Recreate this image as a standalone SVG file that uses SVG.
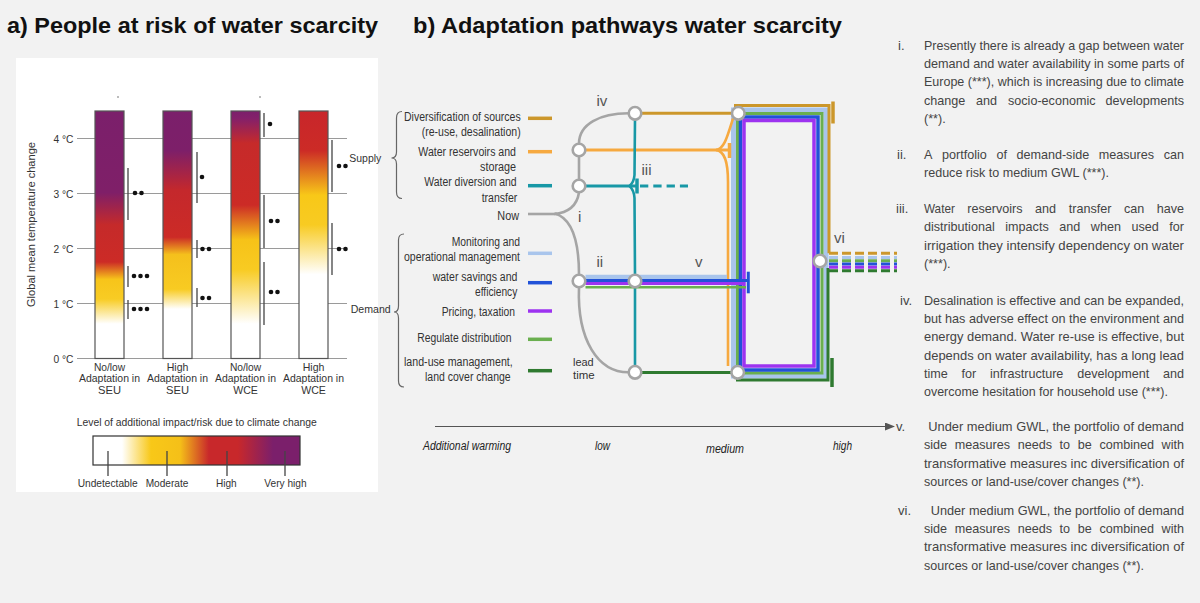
<svg xmlns="http://www.w3.org/2000/svg" width="1200" height="603" viewBox="0 0 1200 603">
<defs>
<style>
.t{font-family:"Liberation Sans",Arial,sans-serif;font-weight:bold;fill:#111;font-size:22px}
.n{font-family:"Liberation Sans Narrow","Arial Narrow","Liberation Sans",Arial,sans-serif;fill:#333}
.lab{font-size:12.5px}
.sm{font-size:11.5px}
.bl{font-size:10.5px}
.lg{font-size:11px}
.r{font-size:13px;fill:#444}
.rn{font-family:"Liberation Sans",Arial,sans-serif;font-size:15px;fill:#555}
.ax{font-style:italic;font-size:12px;fill:#222}
.grid{stroke:#9a9a9a;stroke-width:1}
.bar{stroke:#555;stroke-width:1.2}
.ci{stroke:#444;stroke-width:1.3}
.dot{fill:#111}
.tree{fill:none;stroke:#a5a5a5;stroke-width:2.6}
.node{fill:#fff;stroke:#a5a5a5;stroke-width:2.6}
.p{fill:none}
.brace{fill:none;stroke:#666;stroke-width:1.2}
.gold{stroke:#cc972b}
.orng{stroke:#f6a940}
.teal{stroke:#1898a6}
.lblu{stroke:#a9c5ec}
.blue{stroke:#2152d8}
.purp{stroke:#9d33f0}
.lgrn{stroke:#6aaf4f}
.dgrn{stroke:#2f7a30}
</style>
<linearGradient id="g1" x1="0" y1="0" x2="0" y2="1">
<stop offset="0" stop-color="#7b1f6b"/><stop offset="0.33" stop-color="#7f1f68"/><stop offset="0.46" stop-color="#c52a2a"/><stop offset="0.61" stop-color="#cc2b26"/><stop offset="0.68" stop-color="#f7c41a"/><stop offset="0.76" stop-color="#f8cc24"/><stop offset="0.86" stop-color="#ffffff"/><stop offset="1" stop-color="#ffffff"/>
</linearGradient>
<linearGradient id="g2" x1="0" y1="0" x2="0" y2="1">
<stop offset="0" stop-color="#7b1f6b"/><stop offset="0.16" stop-color="#7d1f69"/><stop offset="0.32" stop-color="#c4282c"/><stop offset="0.51" stop-color="#cc2b26"/><stop offset="0.58" stop-color="#f5c01c"/><stop offset="0.72" stop-color="#f8cb22"/><stop offset="0.80" stop-color="#ffffff"/><stop offset="1" stop-color="#ffffff"/>
</linearGradient>
<linearGradient id="g3" x1="0" y1="0" x2="0" y2="1">
<stop offset="0" stop-color="#7b1f6b"/><stop offset="0.03" stop-color="#84206a"/><stop offset="0.13" stop-color="#c62a2a"/><stop offset="0.38" stop-color="#cc2b26"/><stop offset="0.52" stop-color="#f6c218"/><stop offset="0.64" stop-color="#f8cb22"/><stop offset="0.86" stop-color="#ffffff"/><stop offset="1" stop-color="#ffffff"/>
</linearGradient>
<linearGradient id="g4" x1="0" y1="0" x2="0" y2="1">
<stop offset="0" stop-color="#c8262b"/><stop offset="0.16" stop-color="#cc2b26"/><stop offset="0.34" stop-color="#f8c818"/><stop offset="0.46" stop-color="#f8cb22"/><stop offset="0.66" stop-color="#ffffff"/><stop offset="1" stop-color="#ffffff"/>
</linearGradient>
<linearGradient id="gl" x1="0" y1="0" x2="1" y2="0">
<stop offset="0" stop-color="#ffffff"/><stop offset="0.14" stop-color="#ffffff"/><stop offset="0.28" stop-color="#f8c818"/><stop offset="0.42" stop-color="#f5c018"/><stop offset="0.56" stop-color="#c8282b"/><stop offset="0.70" stop-color="#c8282b"/><stop offset="0.87" stop-color="#7b1f6b"/><stop offset="1" stop-color="#7b1f6b"/>
</linearGradient>
<marker id="arr" markerWidth="10" markerHeight="8" refX="9" refY="4" orient="auto" markerUnits="userSpaceOnUse">
<path d="M0,0 L10,4 L0,8 Z" fill="#555"/>
</marker>
</defs>

<rect width="1200" height="603" fill="#f2f2f2"/>

<!-- Titles -->
<text class="t" x="7" y="32.5" textLength="371" lengthAdjust="spacingAndGlyphs">a) People at risk of water scarcity</text>
<text class="t" x="413" y="33" textLength="429" lengthAdjust="spacingAndGlyphs">b) Adaptation pathways water scarcity</text>

<!-- Panel a -->
<g id="panel-a">
<rect x="16" y="58" width="362" height="434" fill="#ffffff"/>
<g id="grid">
<line class="grid" x1="77" y1="138.5" x2="347" y2="138.5"/>
<line class="grid" x1="77" y1="193.5" x2="347" y2="193.5"/>
<line class="grid" x1="77" y1="248.5" x2="347" y2="248.5"/>
<line class="grid" x1="77" y1="303.5" x2="347" y2="303.5"/>
<line class="grid" x1="77" y1="358.5" x2="347" y2="358.5"/>
</g>
<g class="n sm">
<text x="53.5" y="142.5" textLength="20" lengthAdjust="spacingAndGlyphs">4 °C</text>
<text x="53.5" y="197.5" textLength="20" lengthAdjust="spacingAndGlyphs">3 °C</text>
<text x="53.5" y="252.5" textLength="20" lengthAdjust="spacingAndGlyphs">2 °C</text>
<text x="53.5" y="307.5" textLength="20" lengthAdjust="spacingAndGlyphs">1 °C</text>
<text x="53.5" y="362.5" textLength="20" lengthAdjust="spacingAndGlyphs">0 °C</text>
<text transform="translate(35,307) rotate(-90)" x="0" y="0" textLength="165" lengthAdjust="spacingAndGlyphs">Global mean temperature change</text>
</g>
<circle cx="118" cy="97" r="0.8" fill="#666"/>
<circle cx="260" cy="97" r="0.8" fill="#666"/>
<g id="bar-seu-low"><rect class="bar" x="95" y="111" width="29" height="247.5" fill="url(#g1)"/></g>
<g id="bar-seu-high"><rect class="bar" x="163" y="111" width="29" height="247.5" fill="url(#g2)"/></g>
<g id="bar-wce-low"><rect class="bar" x="231" y="111" width="29" height="247.5" fill="url(#g3)"/></g>
<g id="bar-wce-high"><rect class="bar" x="299" y="111" width="29" height="247.5" fill="url(#g4)"/></g>
<g id="confidence">
<line class="ci" x1="128" y1="168" x2="128" y2="220"/>
<circle class="dot" cx="135" cy="193" r="2.3"/><circle class="dot" cx="141.5" cy="193" r="2.3"/>
<line class="ci" x1="128" y1="266" x2="128" y2="287"/>
<circle class="dot" cx="134" cy="276" r="2.3"/><circle class="dot" cx="140.5" cy="276" r="2.3"/><circle class="dot" cx="147" cy="276" r="2.3"/>
<line class="ci" x1="128" y1="300" x2="128" y2="319"/>
<circle class="dot" cx="134" cy="309" r="2.3"/><circle class="dot" cx="140.5" cy="309" r="2.3"/><circle class="dot" cx="147" cy="309" r="2.3"/>
<line class="ci" x1="197" y1="152" x2="197" y2="203"/>
<circle class="dot" cx="202" cy="177" r="2.3"/>
<line class="ci" x1="197" y1="240" x2="197" y2="258"/>
<circle class="dot" cx="202.5" cy="249" r="2.3"/><circle class="dot" cx="209" cy="249" r="2.3"/>
<line class="ci" x1="197" y1="288" x2="197" y2="307"/>
<circle class="dot" cx="202.5" cy="298" r="2.3"/><circle class="dot" cx="209" cy="298" r="2.3"/>
<line class="ci" x1="264" y1="113" x2="264" y2="137"/>
<circle class="dot" cx="270" cy="124" r="2.3"/>
<line class="ci" x1="264" y1="195" x2="264" y2="248"/>
<circle class="dot" cx="271" cy="221" r="2.3"/><circle class="dot" cx="277.5" cy="221" r="2.3"/>
<line class="ci" x1="264" y1="262" x2="264" y2="325"/>
<circle class="dot" cx="271" cy="292" r="2.3"/><circle class="dot" cx="277.5" cy="292" r="2.3"/>
<line class="ci" x1="332" y1="140" x2="332" y2="192"/>
<circle class="dot" cx="339" cy="166" r="2.3"/><circle class="dot" cx="345.5" cy="166" r="2.3"/>
<line class="ci" x1="332" y1="223" x2="332" y2="275"/>
<circle class="dot" cx="339" cy="249" r="2.3"/><circle class="dot" cx="345.5" cy="249" r="2.3"/>
</g>
<g class="n bl">
<text x="93.9" y="371" textLength="31.3" lengthAdjust="spacingAndGlyphs">No/low</text>
<text x="79" y="382.3" textLength="61" lengthAdjust="spacingAndGlyphs">Adaptation in</text>
<text x="98" y="393.6" textLength="23" lengthAdjust="spacingAndGlyphs">SEU</text>
<text x="166.7" y="371" textLength="21.7" lengthAdjust="spacingAndGlyphs">High</text>
<text x="147" y="382.3" textLength="61" lengthAdjust="spacingAndGlyphs">Adaptation in</text>
<text x="166" y="393.6" textLength="23" lengthAdjust="spacingAndGlyphs">SEU</text>
<text x="229.9" y="371" textLength="31.3" lengthAdjust="spacingAndGlyphs">No/low</text>
<text x="215" y="382.3" textLength="61" lengthAdjust="spacingAndGlyphs">Adaptation in</text>
<text x="233.2" y="393.6" textLength="24.7" lengthAdjust="spacingAndGlyphs">WCE</text>
<text x="302.7" y="371" textLength="21.7" lengthAdjust="spacingAndGlyphs">High</text>
<text x="283" y="382.3" textLength="61" lengthAdjust="spacingAndGlyphs">Adaptation in</text>
<text x="301.2" y="393.6" textLength="24.7" lengthAdjust="spacingAndGlyphs">WCE</text>
</g>
<g class="n sm">
<text x="349.3" y="162" textLength="32" lengthAdjust="spacingAndGlyphs">Supply</text>
<text x="350.7" y="313" textLength="40" lengthAdjust="spacingAndGlyphs">Demand</text>
<text x="76.7" y="425.5" textLength="240" lengthAdjust="spacingAndGlyphs">Level of additional impact/risk due to climate change</text>
</g>
<g id="legend">
<rect x="93" y="436" width="207" height="29" fill="url(#gl)" stroke="#333" stroke-width="1.2"/>
<line class="ci" x1="108" y1="451" x2="108" y2="476" stroke-width="1.5"/>
<line class="ci" x1="167" y1="451" x2="167" y2="476" stroke-width="1.5"/>
<line class="ci" x1="227" y1="451" x2="227" y2="476" stroke-width="1.5"/>
<line class="ci" x1="285" y1="451" x2="285" y2="476" stroke-width="1.5"/>
<g class="n lg">
<text x="77.7" y="487" textLength="60" lengthAdjust="spacingAndGlyphs">Undetectable</text>
<text x="145.7" y="487" textLength="42.7" lengthAdjust="spacingAndGlyphs">Moderate</text>
<text x="216" y="487" textLength="20.7" lengthAdjust="spacingAndGlyphs">High</text>
<text x="264.3" y="487" textLength="42.3" lengthAdjust="spacingAndGlyphs">Very high</text>
</g>
</g>
</g>

<!-- Panel b: braces and labels -->
<g id="braces">
<path class="brace" d="M402,111.5 Q396.5,111.5 396.5,118 L396.5,152 Q396.5,158 391.5,158 Q396.5,158 396.5,164 L396.5,192 Q396.5,198.5 402,198.5"/>
<path class="brace" d="M404,234 Q398.5,234 398.5,240 L398.5,306 Q398.5,312 394,312 Q398.5,312 398.5,318 L398.5,381 Q398.5,387 404,387"/>
</g>

<g id="key-diversification"><text class="n lab" x="404" y="120.5" textLength="116.7" lengthAdjust="spacingAndGlyphs">Diversification of sources</text><text class="n lab" x="421.7" y="135.5" textLength="99" lengthAdjust="spacingAndGlyphs">(re-use, desalination)</text><line class="p gold" x1="528" y1="118.3" x2="552" y2="118.3" stroke-width="3.5"/></g>
<g id="key-reservoirs"><text class="n lab" x="418.3" y="155.5" textLength="97.7" lengthAdjust="spacingAndGlyphs">Water reservoirs and</text><text class="n lab" x="480" y="170.5" textLength="36" lengthAdjust="spacingAndGlyphs">storage</text><line class="p orng" x1="528" y1="151.7" x2="552" y2="151.7" stroke-width="3.5"/></g>
<g id="key-diversion"><text class="n lab" x="424.3" y="185.5" textLength="92.3" lengthAdjust="spacingAndGlyphs">Water diversion and</text><text class="n lab" x="481.7" y="201.5" textLength="35.7" lengthAdjust="spacingAndGlyphs">transfer</text><line class="p teal" x1="528" y1="185.7" x2="552" y2="185.7" stroke-width="3.5"/></g>
<g id="key-now"><text class="n lab" x="497.3" y="220" textLength="21.7" lengthAdjust="spacingAndGlyphs">Now</text></g>
<g id="key-monitoring"><text class="n lab" x="451.7" y="245.5" textLength="68.3" lengthAdjust="spacingAndGlyphs">Monitoring and</text><text class="n lab" x="404" y="260.5" textLength="116" lengthAdjust="spacingAndGlyphs">operational management</text><line class="p lblu" x1="528" y1="253.3" x2="552" y2="253.3" stroke-width="3.5"/></g>
<g id="key-savings"><text class="n lab" x="432.7" y="280.5" textLength="84.7" lengthAdjust="spacingAndGlyphs">water savings and</text><text class="n lab" x="475" y="295.5" textLength="42.3" lengthAdjust="spacingAndGlyphs">efficiency</text><line class="p blue" x1="528" y1="282.7" x2="552" y2="282.7" stroke-width="3.5"/></g>
<g id="key-pricing"><text class="n lab" x="441.7" y="315.5" textLength="73.3" lengthAdjust="spacingAndGlyphs">Pricing, taxation</text><line class="p purp" x1="528" y1="311" x2="552" y2="311" stroke-width="3.5"/></g>
<g id="key-regulate"><text class="n lab" x="417.3" y="341.5" textLength="94.3" lengthAdjust="spacingAndGlyphs">Regulate distribution</text><line class="p lgrn" x1="528" y1="339.3" x2="552" y2="339.3" stroke-width="3.5"/></g>
<g id="key-landuse"><text class="n lab" x="404" y="366" textLength="108.7" lengthAdjust="spacingAndGlyphs">land-use management,</text><text class="n lab" x="425" y="380.5" textLength="85.7" lengthAdjust="spacingAndGlyphs">land cover change</text><line class="p dgrn" x1="528" y1="370.7" x2="552" y2="370.7" stroke-width="3.5"/></g>

<!-- connectors -->
<g id="connectors">
<path class="tree" d="M528,214 L557,214"/>
<path class="tree" d="M554,214 Q576,212 579,192.5"/>
<path class="tree" d="M555,213.5 C570,218 579,236 579,274.5"/>
<path class="tree" d="M579,179.5 L579,156.5"/>
<path class="tree" d="M579,143.5 C579,124 600,113.3 628.5,113.3"/>
<path class="tree" d="M579,287.5 C577,340 598,372.3 628.5,372.3"/>
<rect class="p lblu" x="733.5" y="110" width="92.5" height="266" stroke-width="5"/>
<rect class="p lgrn" x="737.5" y="113.5" width="84.5" height="259.5" stroke-width="3"/>
<rect class="p blue" x="740.5" y="117" width="77.5" height="253" stroke-width="3.5"/>
<rect class="p purp" x="744" y="120.5" width="70" height="245.5" stroke-width="3.5"/>
<path class="p gold" d="M641.5,113.3 L732,113.3" stroke-width="3"/>
<path class="p gold" d="M734,105.5 L829,105.5 L829,253.3" stroke-width="3"/>
<path class="p gold" d="M833,101.5 L833,123.5" stroke-width="3.5"/>
<path class="p orng" d="M585.5,150 L721,150" stroke-width="3"/>
<path class="p orng" d="M716,150 C724,149 727,138 733,118.5" stroke-width="2.6"/>
<path class="p orng" d="M716,150 C724,151 728,160 728,182 L728,366" stroke-width="2.6"/>
<path class="p orng" d="M720,150 L729.5,150" stroke-width="3"/>
<path class="p orng" d="M729.5,143 L729.5,158" stroke-width="3.5"/>
<path class="p teal" d="M635,119.5 L634.5,175 Q634,182 629.5,186 Q634,190 634.5,198 L635,274.5" stroke-width="2.6"/>
<path class="p teal" d="M635,287.5 L635,366" stroke-width="2.6"/>
<path class="p teal" d="M585.5,186 L637,186" stroke-width="3"/>
<path class="p teal" d="M637,178.5 L637,193.5" stroke-width="3.5"/>
<path class="p teal" d="M640,186 L688,186" stroke-width="3" stroke-dasharray="8.3 5"/>
<path class="p lblu" d="M585.5,277 L727,277" stroke-width="4.5"/>
<path class="p blue" d="M585.5,280.5 L748,280.5" stroke-width="3"/>
<path class="p purp" d="M585.5,283.5 L745,283.5" stroke-width="3"/>
<path class="p lgrn" d="M585.5,287.3 L746,287.3" stroke-width="2.5"/>
<path class="p blue" d="M748.3,271.7 L748.3,293.3" stroke-width="3"/>
<path class="p dgrn" d="M641.5,372.5 L732,372.5" stroke-width="3"/>
<path class="p dgrn" d="M736,380 L828,380 L828,268" stroke-width="3"/>
<path class="p dgrn" d="M832,358 L832,387" stroke-width="3.5"/>
<g stroke-dasharray="9 4" stroke-width="3" fill="none">
<path class="gold" d="M829,253.3 L897,253.3"/>
<path class="lblu" d="M829,257.5 L897,257.5"/>
<path class="lgrn" d="M829,260.7 L897,260.7"/>
<path class="blue" d="M829,264 L897,264"/>
<path class="purp" d="M829,267.3 L897,267.3"/>
<path class="dgrn" d="M829,270.7 L897,270.7"/>
</g>
<line x1="435" y1="426.5" x2="894" y2="426.5" stroke="#555" stroke-width="1.2" marker-end="url(#arr)"/>
</g>

<!-- nodes -->
<g id="node-iv"><circle class="node" cx="635" cy="113.3" r="6.3"/></g>
<g id="node-reservoirs"><circle class="node" cx="579" cy="150" r="6.3"/></g>
<g id="node-diversion"><circle class="node" cx="579" cy="186" r="6.3"/></g>
<g id="node-ii"><circle class="node" cx="579" cy="281" r="6.3"/></g>
<g id="node-mid"><circle class="node" cx="635" cy="281" r="6.3"/></g>
<g id="node-lead"><circle class="node" cx="635" cy="372.3" r="6.3"/></g>
<g id="node-top"><circle class="node" cx="738.3" cy="113.3" r="6.3"/></g>
<g id="node-bottom"><circle class="node" cx="737.7" cy="372.3" r="6.3"/></g>
<g id="node-vi"><circle class="node" cx="820" cy="261" r="6.3"/></g>

<g id="labels-pathway">
<text class="rn" x="596.5" y="105.5">iv</text>
<text class="rn" x="641.5" y="175">iii</text>
<text class="rn" x="578" y="221.5">i</text>
<text class="rn" x="596.5" y="267">ii</text>
<text class="rn" x="695" y="267">v</text>
<text class="rn" x="834" y="243">vi</text>
<text class="n" x="573" y="366" font-size="10.5" fill="#555" textLength="20.7" lengthAdjust="spacingAndGlyphs">lead</text>
<text class="n" x="573" y="378.5" font-size="10.5" fill="#555" textLength="21.7" lengthAdjust="spacingAndGlyphs">time</text>
</g>

<g id="axis-labels" class="n ax">
<text x="423" y="450" textLength="88" lengthAdjust="spacingAndGlyphs">Additional warming</text>
<text x="595" y="450" textLength="15" lengthAdjust="spacingAndGlyphs">low</text>
<text x="706" y="453" textLength="38" lengthAdjust="spacingAndGlyphs">medium</text>
<text x="833" y="450" textLength="19" lengthAdjust="spacingAndGlyphs">high</text>
</g>

<g id="notes" class="n r">
<text x="898" y="49.5">i.</text>
<text x="924" y="49.5" textLength="260" lengthAdjust="spacingAndGlyphs">Presently there is already a gap between water</text>
<text x="924" y="67.8" textLength="260" lengthAdjust="spacingAndGlyphs">demand and water availability in some parts of</text>
<text x="924" y="86.2" textLength="260" lengthAdjust="spacingAndGlyphs">Europe (***), which is increasing due to climate</text>
<text x="924" y="104.5" textLength="41.3" lengthAdjust="spacingAndGlyphs">change</text>
<text x="976" y="104.5" textLength="21" lengthAdjust="spacingAndGlyphs">and</text>
<text x="1008" y="104.5" textLength="87.5" lengthAdjust="spacingAndGlyphs">socio-economic</text>
<text x="1105.6" y="104.5" textLength="78.4" lengthAdjust="spacingAndGlyphs">developments</text>
<text x="924" y="122.8" textLength="21.7" lengthAdjust="spacingAndGlyphs">(**).</text>

<text x="897" y="158.5">ii.</text>
<text x="924" y="158.5" textLength="8.4" lengthAdjust="spacingAndGlyphs">A</text>
<text x="942" y="158.5" textLength="44.8" lengthAdjust="spacingAndGlyphs">portfolio</text>
<text x="996.4" y="158.5" textLength="10.5" lengthAdjust="spacingAndGlyphs">of</text>
<text x="1016.4" y="158.5" textLength="72.8" lengthAdjust="spacingAndGlyphs">demand-side</text>
<text x="1098.8" y="158.5" textLength="55.3" lengthAdjust="spacingAndGlyphs">measures</text>
<text x="1163.7" y="158.5" textLength="20.3" lengthAdjust="spacingAndGlyphs">can</text>
<text x="924" y="176.8" textLength="185" lengthAdjust="spacingAndGlyphs">reduce risk to medium GWL (***).</text>

<text x="896" y="212.8">iii.</text>
<text x="924" y="212.8" textLength="30.8" lengthAdjust="spacingAndGlyphs">Water</text>
<text x="967.3" y="212.8" textLength="55.3" lengthAdjust="spacingAndGlyphs">reservoirs</text>
<text x="1035.1" y="212.8" textLength="21" lengthAdjust="spacingAndGlyphs">and</text>
<text x="1068.7" y="212.8" textLength="42.7" lengthAdjust="spacingAndGlyphs">transfer</text>
<text x="1123.9" y="212.8" textLength="20.3" lengthAdjust="spacingAndGlyphs">can</text>
<text x="1156.7" y="212.8" textLength="27.3" lengthAdjust="spacingAndGlyphs">have</text>
<text x="924" y="231.2" textLength="70.7" lengthAdjust="spacingAndGlyphs">distributional</text>
<text x="1005.3" y="231.2" textLength="43.4" lengthAdjust="spacingAndGlyphs">impacts</text>
<text x="1059.2" y="231.2" textLength="21" lengthAdjust="spacingAndGlyphs">and</text>
<text x="1090.8" y="231.2" textLength="30.1" lengthAdjust="spacingAndGlyphs">when</text>
<text x="1131.4" y="231.2" textLength="27.3" lengthAdjust="spacingAndGlyphs">used</text>
<text x="1169.3" y="231.2" textLength="14.7" lengthAdjust="spacingAndGlyphs">for</text>
<text x="924" y="249.5" textLength="260" lengthAdjust="spacingAndGlyphs">irrigation they intensify dependency on water</text>
<text x="924" y="267.8" textLength="26.6" lengthAdjust="spacingAndGlyphs">(***).</text>

<text x="900" y="304.5">iv.</text>
<text x="924" y="304.5" textLength="260" lengthAdjust="spacingAndGlyphs">Desalination is effective and can be expanded,</text>
<text x="924" y="322.8" textLength="260" lengthAdjust="spacingAndGlyphs">but has adverse effect on the environment and</text>
<text x="924" y="341.2" textLength="260" lengthAdjust="spacingAndGlyphs">energy demand. Water re-use is effective, but</text>
<text x="924" y="359.5" textLength="260" lengthAdjust="spacingAndGlyphs">depends on water availability, has a long lead</text>
<text x="924" y="377.8" textLength="23.8" lengthAdjust="spacingAndGlyphs">time</text>
<text x="961.5" y="377.8" textLength="14.7" lengthAdjust="spacingAndGlyphs">for</text>
<text x="989.9" y="377.8" textLength="73.5" lengthAdjust="spacingAndGlyphs">infrastructure</text>
<text x="1077.2" y="377.8" textLength="72.1" lengthAdjust="spacingAndGlyphs">development</text>
<text x="1163" y="377.8" textLength="21" lengthAdjust="spacingAndGlyphs">and</text>
<text x="924" y="396.2" textLength="244" lengthAdjust="spacingAndGlyphs">overcome hesitation for household use (***).</text>

<text x="896" y="430.5">v.</text>
<text x="928.3" y="430.5" textLength="255.7" lengthAdjust="spacingAndGlyphs">Under medium GWL, the portfolio of demand</text>
<text x="924" y="449" textLength="23.1" lengthAdjust="spacingAndGlyphs">side</text>
<text x="954.7" y="449" textLength="55.3" lengthAdjust="spacingAndGlyphs">measures</text>
<text x="1017.7" y="449" textLength="34.3" lengthAdjust="spacingAndGlyphs">needs</text>
<text x="1059.6" y="449" textLength="10.5" lengthAdjust="spacingAndGlyphs">to</text>
<text x="1077.7" y="449" textLength="14" lengthAdjust="spacingAndGlyphs">be</text>
<text x="1099.4" y="449" textLength="54.6" lengthAdjust="spacingAndGlyphs">combined</text>
<text x="1161.6" y="449" textLength="22.4" lengthAdjust="spacingAndGlyphs">with</text>
<text x="924" y="467.5" textLength="260" lengthAdjust="spacingAndGlyphs">transformative measures inc diversification of</text>
<text x="924" y="486" textLength="220" lengthAdjust="spacingAndGlyphs">sources or land-use/cover changes (**).</text>

<text x="898" y="514.5">vi.</text>
<text x="930.7" y="514.5" textLength="253.3" lengthAdjust="spacingAndGlyphs">Under medium GWL, the portfolio of demand</text>
<text x="924" y="532.8" textLength="23.1" lengthAdjust="spacingAndGlyphs">side</text>
<text x="954.7" y="532.8" textLength="55.3" lengthAdjust="spacingAndGlyphs">measures</text>
<text x="1017.7" y="532.8" textLength="34.3" lengthAdjust="spacingAndGlyphs">needs</text>
<text x="1059.6" y="532.8" textLength="10.5" lengthAdjust="spacingAndGlyphs">to</text>
<text x="1077.7" y="532.8" textLength="14" lengthAdjust="spacingAndGlyphs">be</text>
<text x="1099.4" y="532.8" textLength="54.6" lengthAdjust="spacingAndGlyphs">combined</text>
<text x="1161.6" y="532.8" textLength="22.4" lengthAdjust="spacingAndGlyphs">with</text>
<text x="924" y="551.2" textLength="260" lengthAdjust="spacingAndGlyphs">transformative measures inc diversification of</text>
<text x="924" y="569.5" textLength="220" lengthAdjust="spacingAndGlyphs">sources or land-use/cover changes (**).</text>
</g>
</svg>
